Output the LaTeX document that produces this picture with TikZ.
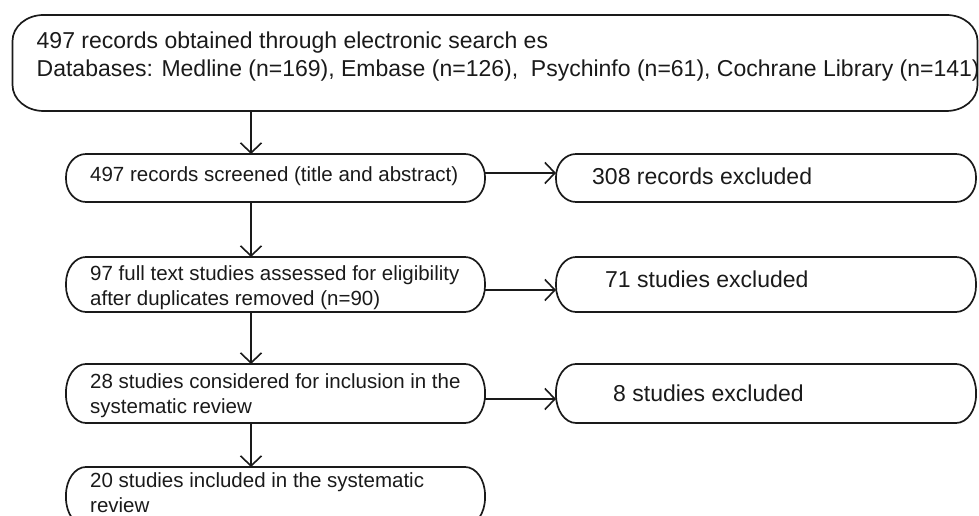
\documentclass[tikz,border=0pt]{standalone}
\usepackage{fontspec}
\setmainfont{Liberation Sans}
\usetikzlibrary{arrows.meta,calc}
\definecolor{ink}{HTML}{1A1A1A}
\tikzset{
  boxshape/.style={draw=none, rectangle, inner sep=0pt, outer sep=0pt},
  bigtxt/.style={inner sep=0pt, anchor=west, align=left, text=ink, font=\fontsize{23}{28}\selectfont},
  smalltxt/.style={inner sep=0pt, anchor=west, align=left, text=ink, font=\fontsize{20.5}{25}\selectfont},
  boxline/.style={draw=ink, line width=1.7pt},
  arr/.style={draw=ink, line width=1.6pt, -{Straight Barb[length=10pt,width=21pt,line width=1.6pt]}}
}
\newcommand\eoutline[3]{%
  \draw[boxline] ([xshift=#2]#1.north west) -- ([xshift=-#2]#1.north east)
    arc[start angle=90,end angle=0,x radius=#2,y radius=#3]
    -- ([yshift=#3]#1.south east)
    arc[start angle=0,end angle=-90,x radius=#2,y radius=#3]
    -- ([xshift=#2]#1.south west)
    arc[start angle=270,end angle=180,x radius=#2,y radius=#3]
    -- ([yshift=-#3]#1.north west)
    arc[start angle=180,end angle=90,x radius=#2,y radius=#3] -- cycle;}
\begin{document}
\begin{tikzpicture}[x=1pt,y=1pt]
\useasboundingbox (0,0) rectangle (979,516);
\clip (0,0) rectangle (979,516);
% boxes
\node[boxshape, minimum width=965pt, minimum height=96pt] (top) at (495,453) {};
\node[boxshape, minimum width=419pt, minimum height=48pt] (l1) at (275.5,338) {};
\node[boxshape, minimum width=420pt, minimum height=48pt] (r1) at (766,338) {};
\node[boxshape, minimum width=419pt, minimum height=55pt] (l2) at (275.5,231.5) {};
\node[boxshape, minimum width=420pt, minimum height=55pt] (r2) at (766,231.5) {};
\node[boxshape, minimum width=419pt, minimum height=59pt] (l3) at (275.5,122.5) {};
\node[boxshape, minimum width=420pt, minimum height=59pt] (r3) at (766,122.5) {};
\node[boxshape, minimum width=419pt, minimum height=59pt] (l4) at (275.5,19.5) {};
\eoutline{top}{31pt}{26pt}
\eoutline{l1}{20pt}{23pt}
\eoutline{r1}{20pt}{23pt}
\eoutline{l2}{20pt}{26pt}
\eoutline{r2}{20pt}{26pt}
\eoutline{l3}{20pt}{28pt}
\eoutline{r3}{20pt}{28pt}
\eoutline{l4}{20pt}{28pt}
% texts
\node[bigtxt] (ttop) at ([xshift=24pt,yshift=6pt]top.west) {497 records obtained through electronic search es\\Databases: Medline (n=169), Embase (n=126),\ \ Psychinfo (n=61), Cochrane Library (n=141)};
\node[smalltxt] (tl1) at ([xshift=24pt,yshift=2pt]l1.west) {497 records screened (title and abstract)};
\node[smalltxt] (tl2) at ([xshift=24pt,yshift=-3pt]l2.west) {97 full text studies assessed for eligibility\\after duplicates removed (n=90)};
\node[smalltxt] (tl3) at ([xshift=24pt,yshift=-2pt]l3.west) {28 studies considered for inclusion in the\\systematic review};
\node[smalltxt, anchor=north west] (tl4) at ([xshift=24pt,yshift=-5pt]l4.north west) {20 studies included in the systematic\\review};
\node[bigtxt] (tr1) at ([xshift=36pt,yshift=2pt]r1.west) {308 records excluded};
\node[bigtxt] (tr2) at ([xshift=49pt,yshift=5pt]r2.west) {71 studies excluded};
\node[bigtxt] (tr3) at ([xshift=57pt,yshift=0pt]r3.west) {8 studies excluded};
% connectors
\coordinate (ax) at (251,0);
\draw[arr] (top.south -| ax) -- (l1.north -| ax);
\draw[arr] (l1.south -| ax) -- (l2.north -| ax);
\draw[arr] (l2.south -| ax) -- (l3.north -| ax);
\draw[arr] (l3.south -| ax) -- (l4.north -| ax);
\draw[arr] ([yshift=5pt]l1.east) -- ([yshift=5pt]r1.west);
\draw[arr] ([yshift=-5.5pt]l2.east) -- ([yshift=-5.5pt]r2.west);
\draw[arr] ([yshift=-5.5pt]l3.east) -- ([yshift=-5.5pt]r3.west);
\end{tikzpicture}
\end{document}
